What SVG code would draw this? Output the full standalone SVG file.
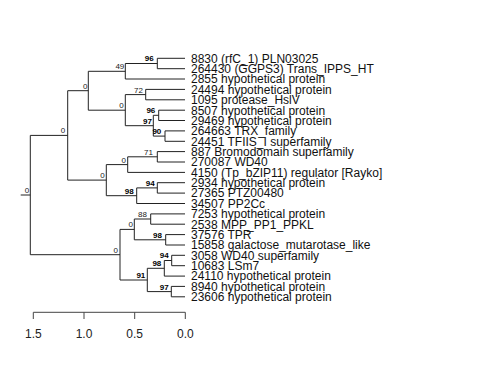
<svg xmlns="http://www.w3.org/2000/svg" width="480" height="384" viewBox="0 0 480 384">
<style>
.e{fill:none;stroke:#222;stroke-width:1}
.ax{fill:none;stroke:#444;stroke-width:1}
.tip{font-family:"Liberation Sans",Arial,sans-serif;font-size:12px;fill:#111}
.bs{font-family:"Liberation Sans",Arial,sans-serif;font-size:8px;fill:#222;text-anchor:end}
.bs.b{font-weight:bold;fill:#000}
.al{font-family:"Liberation Sans",Arial,sans-serif;font-size:12px;fill:#222;text-anchor:middle}
</style>
<rect width="480" height="384" fill="#fff"/>
<g id="connectors">
<path class="e" d="M20.7 195 H30.3 M30.3 135.4 V254.7 M30.3 135.4 H67.7 M30.3 254.7 H120"/>
<path class="e" d="M67.7 90.7 V180.1 M67.7 90.7 H88.3 M67.7 180.1 H106.3"/>
<path class="e" d="M88.3 71.3 V110.2 M88.3 71.3 H125.3 M88.3 110.2 H125.3"/>
<path class="e" d="M125.3 63.5 V79 M125.3 63.5 H157.3 M125.3 79 H185"/>
<path class="e" d="M157.3 58.3 V68.7 M157.3 58.3 H185 M157.3 68.7 H185"/>
<path class="e" d="M125.3 94.6 V125.7 M125.3 94.6 H145.7 M125.3 125.7 H153.3"/>
<path class="e" d="M145.7 89.4 V99.8 M145.7 89.4 H185 M145.7 99.8 H185"/>
<path class="e" d="M153.3 115.3 V136.1 M153.3 115.3 H158.7 M153.3 136.1 H165"/>
<path class="e" d="M158.7 110.2 V120.5 M158.7 110.2 H185 M158.7 120.5 H185"/>
<path class="e" d="M165 130.9 V141.3 M165 130.9 H185 M165 141.3 H185"/>
<path class="e" d="M106.3 164.6 V195.7 M106.3 164.6 H127.7 M106.3 195.7 H136.7"/>
<path class="e" d="M127.7 156.8 V172.4 M127.7 156.8 H157.3 M127.7 172.4 H185"/>
<path class="e" d="M157.3 151.6 V162 M157.3 151.6 H185 M157.3 162 H185"/>
<path class="e" d="M136.7 187.9 V203.5 M136.7 187.9 H157.3 M136.7 203.5 H185"/>
<path class="e" d="M157.3 182.7 V193.1 M157.3 182.7 H185 M157.3 193.1 H185"/>
<path class="e" d="M120 229.4 V280 M120 229.4 H134.3 M120 280 H147.3"/>
<path class="e" d="M134.3 219 V239.8 M134.3 219 H150.7 M134.3 239.8 H165.7"/>
<path class="e" d="M150.7 213.9 V224.2 M150.7 213.9 H185 M150.7 224.2 H185"/>
<path class="e" d="M165.7 234.6 V245 M165.7 234.6 H185 M165.7 245 H185"/>
<path class="e" d="M147.3 268.3 V291.6 M147.3 268.3 H164.3 M147.3 291.6 H171.3"/>
<path class="e" d="M164.3 260.5 V276.1 M164.3 260.5 H171.7 M164.3 276.1 H185"/>
<path class="e" d="M171.7 255.3 V265.7 M171.7 255.3 H185 M171.7 265.7 H185"/>
<path class="e" d="M171.3 286.4 V296.8 M171.3 286.4 H185 M171.3 296.8 H185"/>
</g>
<g id="leaf-8830"><text class="tip" x="191" y="62.6">8830 (rfC_1) PLN03025</text></g>
<g id="leaf-264430"><text class="tip" x="191" y="73">264430 (GGPS3) Trans_IPPS_HT</text></g>
<g id="leaf-2855"><text class="tip" x="191" y="83.3">2855 hypothetical protein</text></g>
<g id="leaf-24494"><text class="tip" x="191" y="93.7">24494 hypothetical protein</text></g>
<g id="leaf-1095"><text class="tip" x="191" y="104.1">1095 protease_HslV</text></g>
<g id="leaf-8507"><text class="tip" x="191" y="114.5">8507 hypothetical protein</text></g>
<g id="leaf-29469"><text class="tip" x="191" y="124.8">29469 hypothetical protein</text></g>
<g id="leaf-264663"><text class="tip" x="191" y="135.2">264663 TRX_family</text></g>
<g id="leaf-24451"><text class="tip" x="191" y="145.6">24451 TFIIS_I superfamily</text></g>
<g id="leaf-887"><text class="tip" x="191" y="155.9">887 Bromodomain superfamily</text></g>
<g id="leaf-270087"><text class="tip" x="191" y="166.3">270087 WD40</text></g>
<g id="leaf-4150"><text class="tip" x="191" y="176.7">4150 (Tp_bZIP11) regulator [Rayko]</text></g>
<g id="leaf-2934"><text class="tip" x="191" y="187">2934 hypothetical protein</text></g>
<g id="leaf-27365"><text class="tip" x="191" y="197.4">27365 PTZ00480</text></g>
<g id="leaf-34507"><text class="tip" x="191" y="207.8">34507 PP2Cc</text></g>
<g id="leaf-7253"><text class="tip" x="191" y="218.2">7253 hypothetical protein</text></g>
<g id="leaf-2538"><text class="tip" x="191" y="228.5">2538 MPP_PP1_PPKL</text></g>
<g id="leaf-37576"><text class="tip" x="191" y="238.9">37576 TPR</text></g>
<g id="leaf-15858"><text class="tip" x="191" y="249.3">15858 galactose_mutarotase_like</text></g>
<g id="leaf-3058"><text class="tip" x="191" y="259.6">3058 WD40 superfamily</text></g>
<g id="leaf-10683"><text class="tip" x="191" y="270">10683 LSm7</text></g>
<g id="leaf-24110"><text class="tip" x="191" y="280.4">24110 hypothetical protein</text></g>
<g id="leaf-8940"><text class="tip" x="191" y="290.7">8940 hypothetical protein</text></g>
<g id="leaf-23606"><text class="tip" x="191" y="301.1">23606 hypothetical protein</text></g>
<g id="node-root"><text class="bs" x="29.3" y="193">0</text></g>
<g id="node-A"><text class="bs" x="65.3" y="133">0</text></g>
<g id="node-B"><text class="bs" x="87.5" y="88.5">0</text></g>
<g id="node-D"><text class="bs" x="124.3" y="69">49</text></g>
<g id="node-F"><text class="bs b" x="153.6" y="61.3">96</text></g>
<g id="node-E"><text class="bs" x="123.6" y="108">0</text></g>
<g id="node-G"><text class="bs" x="143" y="92.5">72</text></g>
<g id="node-H"><text class="bs b" x="152" y="123.5">97</text></g>
<g id="node-I"><text class="bs b" x="155.3" y="113">96</text></g>
<g id="node-J"><text class="bs b" x="161.3" y="134">90</text></g>
<g id="node-C"><text class="bs" x="104.6" y="178">0</text></g>
<g id="node-K"><text class="bs" x="126" y="162.5">0</text></g>
<g id="node-L"><text class="bs" x="153" y="154.5">71</text></g>
<g id="node-M"><text class="bs b" x="133.6" y="193.5">98</text></g>
<g id="node-N"><text class="bs b" x="154.6" y="185.5">94</text></g>
<g id="node-O"><text class="bs" x="118" y="252.5">0</text></g>
<g id="node-P"><text class="bs" x="133" y="227">0</text></g>
<g id="node-Q"><text class="bs" x="147" y="217">88</text></g>
<g id="node-R"><text class="bs b" x="162" y="237.5">98</text></g>
<g id="node-S"><text class="bs b" x="145.3" y="277.5">91</text></g>
<g id="node-T"><text class="bs b" x="161.3" y="266">98</text></g>
<g id="node-V"><text class="bs b" x="168.6" y="258.3">94</text></g>
<g id="node-U"><text class="bs b" x="168.6" y="289.5">97</text></g>
<g id="scale-axis">
<path class="ax" d="M33.3 312.3 H185.3 M33.3 312.3 V319 M84 312.3 V319 M134.7 312.3 V319 M185.3 312.3 V319"/>
<text class="al" x="33.3" y="337.7">1.5</text>
<text class="al" x="84" y="337.7">1.0</text>
<text class="al" x="134.7" y="337.7">0.5</text>
<text class="al" x="185.3" y="337.7">0.0</text>
</g>
</svg>
